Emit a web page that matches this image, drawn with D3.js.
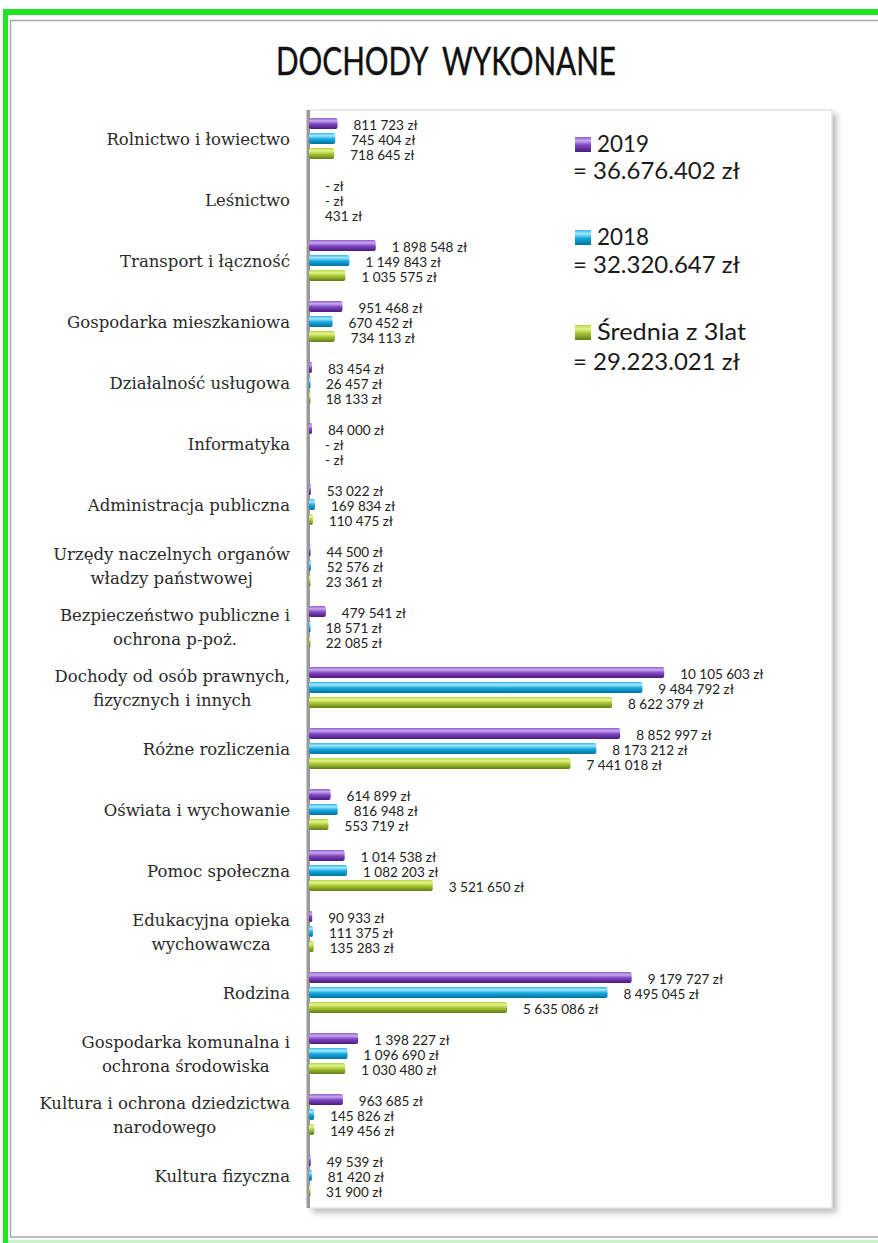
<!DOCTYPE html>
<html><head><meta charset="utf-8">
<script src="https://cdn.jsdelivr.net/npm/d3@7"></script>
<style>
html,body{margin:0;padding:0;background:#fff;}
svg{display:block;}
</style></head>
<body>
<svg id="c" width="878" height="1243"></svg>
<script>
const categories = [
  "Rolnictwo i łowiectwo",
  "Leśnictwo",
  "Transport i łączność",
  "Gospodarka mieszkaniowa",
  "Działalność usługowa",
  "Informatyka",
  "Administracja publiczna",
  "Urzędy naczelnych organów\nwładzy państwowej",
  "Bezpieczeństwo publiczne i\nochrona p-poż.",
  "Dochody od osób prawnych,\nfizycznych i innych",
  "Różne rozliczenia",
  "Oświata i wychowanie",
  "Pomoc społeczna",
  "Edukacyjna opieka\nwychowawcza",
  "Rodzina",
  "Gospodarka komunalna i\nochrona środowiska",
  "Kultura i ochrona dziedzictwa\nnarodowego",
  "Kultura fizyczna"
];
const seriesNames = ["2019", "2018", "Średnia z 3lat"];
const seriesTotals = ["= 36.676.402 zł", "= 32.320.647 zł", "= 29.223.021 zł"];
const values2019 = [811723, 0, 1898548, 951468, 83454, 84000, 53022, 44500, 479541, 10105603, 8852997, 614899, 1014538, 90933, 9179727, 1398227, 963685, 49539];
const values2018 = [745404, 0, 1149843, 670452, 26457, 0, 169834, 52576, 18571, 9484792, 8173212, 816948, 1082203, 111375, 8495045, 1096690, 145826, 81420];
const valuesAvg  = [718645, 431, 1035575, 734113, 18133, 0, 110475, 23361, 22085, 8622379, 7441018, 553719, 3521650, 135283, 5635086, 1030480, 149456, 31900];
const title = "DOCHODY  WYKONANE";

const seriesValues = [values2019, values2018, valuesAvg];
const svg = d3.select("#c");
const defs = svg.append("defs");

// gradients
const grads = [
  ["g0", [["0%","#8f5ccb"],["25%","#c9a9f0"],["55%","#7f45c2"],["100%","#4a1a7a"]]],
  ["g1", [["0%","#2cb7e8"],["25%","#a8e8ff"],["55%","#12a9df"],["100%","#07709c"]]],
  ["g2", [["0%","#b3d548"],["25%","#e6f58a"],["55%","#a6c634"],["100%","#627a17"]]]
];
grads.forEach(([id, stops]) => {
  const g = defs.append("linearGradient").attr("id", id).attr("x1",0).attr("y1",0).attr("x2",0).attr("y2",1);
  stops.forEach(([o,c]) => g.append("stop").attr("offset",o).attr("stop-color",c));
});
const sh = defs.append("filter").attr("id","sh").attr("x","-5%").attr("y","-5%").attr("width","115%").attr("height","115%");
sh.append("feDropShadow").attr("dx",4).attr("dy",4).attr("stdDeviation",3).attr("flood-color","#000").attr("flood-opacity",0.28);

// outer decorations
svg.append("rect").attr("x",3).attr("y",9).attr("width",880).attr("height",6).attr("fill","#1ee61e");
svg.append("rect").attr("x",3).attr("y",9).attr("width",5).attr("height",1234).attr("fill","#1ee61e");
svg.append("rect").attr("x",8).attr("y",1240).attr("width",870).attr("height",3).attr("fill","#c8f5c8");
svg.append("rect").attr("x",10.5).attr("y",20.5).attr("width",880).attr("height",1216.5)
  .attr("fill","#fff").attr("stroke","#a8a8a8").attr("stroke-width",1.5);

// title
svg.append("text").attr("x",446).attr("y",75).attr("text-anchor","middle")
  .attr("font-family","Lato, 'Open Sans', sans-serif").attr("font-size",38).attr("fill","#111")
  .attr("stroke","#111").attr("stroke-width",0.4)
  .attr("textLength",340).attr("lengthAdjust","spacingAndGlyphs")
  .attr("xml:space","preserve").style("white-space","pre").text(title);

// plot area
const plotTop = 110, plotBottom = 1208, plotLeft = 309, plotRight = 832;
svg.append("rect").attr("x",plotLeft).attr("y",plotTop).attr("width",plotRight-plotLeft).attr("height",plotBottom-plotTop)
  .attr("fill","#fff").attr("stroke","#d8d8d8").attr("stroke-width",1).attr("filter","url(#sh)");

const x = d3.scaleLinear().domain([0, 14880000]).range([plotLeft, plotRight]);
const y = d3.scaleBand().domain(categories).range([plotTop, plotBottom]).paddingInner(20/61).paddingOuter(10/61);
const yi = d3.scaleBand().domain(d3.range(3)).range([0, y.bandwidth()]).paddingInner(4/15);

// axis (vertical wall)
svg.append("rect").attr("x",plotLeft-2).attr("y",plotTop).attr("width",3).attr("height",plotBottom-plotTop).attr("fill","#9a9a9a");
svg.append("rect").attr("x",plotLeft-3).attr("y",plotTop).attr("width",1).attr("height",plotBottom-plotTop).attr("fill","#cfcfcf");

// category labels
const catG = svg.append("g");
categories.forEach(c => {
  const lines = c.split("\n");
  const cy = y(c) + y.bandwidth()/2 - 1;
  const t = catG.append("text").attr("font-family","'DejaVu Serif', serif").attr("font-size",16.5)
    .attr("fill","#2a2a2a");
  if (lines.length === 1) {
    t.attr("x",290).attr("y",cy).attr("text-anchor","end").attr("dominant-baseline","central").text(c);
  } else {
    const spans = lines.map((l,i) => t.append("tspan").attr("x",0).attr("y",cy + (i - (lines.length-1)/2)*24.5)
      .attr("dominant-baseline","central").text(l));
    const w = d3.max(spans, s => s.node().getComputedTextLength());
    t.attr("text-anchor","middle");
    spans.forEach(s => s.attr("x", 290 - w/2));
  }
});

// bars
const fmt = v => v === 0 ? "- zł" : d3.format(",")(v).replace(/,/g, " ") + " zł";
const barsG = svg.append("g");
seriesValues.forEach((vals, si) => {
  categories.forEach((c, ci) => {
    const v = vals[ci];
    const by = y(c) + yi(si) - 2;
    const bh = yi.bandwidth();
    const w = x(v) - x(0);
    if (w > 0.3) {
      barsG.append("rect").attr("x", x(0)).attr("y", by).attr("width", Math.max(w, 1.5)).attr("height", bh)
        .attr("rx", Math.min(2, w/2)).attr("fill", `url(#g${si})`);
    }
    barsG.append("text").attr("x", x(v) + 16).attr("y", by + bh/2 + 1.5).attr("dominant-baseline","central")
      .attr("font-family","Lato, sans-serif").attr("font-size",13.5).attr("fill","#222")
      .text(fmt(v));
  });
});

// legend
const legY = [[152,179],[245,273],[340,370]];
const nameW = [52, 52, 149];
seriesNames.forEach((n, i) => {
  const [y1, y2] = legY[i];
  svg.append("rect").attr("x",575).attr("y",y1-15).attr("width",16).attr("height",15).attr("fill",`url(#g${i})`);
  svg.append("text").attr("x",597).attr("y",y1).attr("font-family","Lato, sans-serif").attr("font-size",24)
    .attr("textLength",nameW[i]).attr("lengthAdjust","spacingAndGlyphs")
    .attr("fill","#1a1a1a").text(n);
  svg.append("text").attr("x",573).attr("y",y2).attr("font-family","Lato, sans-serif").attr("font-size",24)
    .attr("textLength",167).attr("lengthAdjust","spacingAndGlyphs")
    .attr("fill","#1a1a1a").text(seriesTotals[i]);
});
</script>
</body></html>
